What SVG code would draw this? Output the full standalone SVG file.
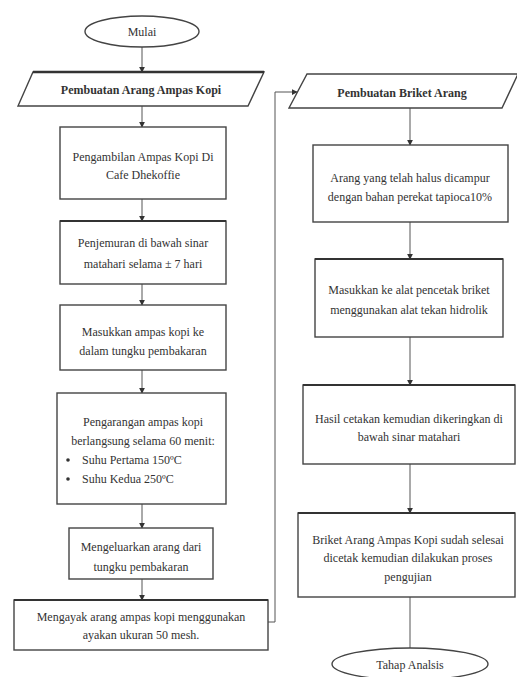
<svg xmlns="http://www.w3.org/2000/svg" width="517" height="677" viewBox="0 0 517 677">
<defs>
<marker id="ah" viewBox="0 0 8 8" refX="7" refY="4" markerWidth="6" markerHeight="6" orient="auto" markerUnits="userSpaceOnUse">
<path d="M0,0 L8,4 L0,8 Z" fill="#333"/>
</marker>
<style>
.box{fill:#fff;stroke:#444;stroke-width:1.4}
.term{fill:#fff;stroke:#444;stroke-width:1.4}
.t{font-family:"Liberation Serif","Times New Roman",serif;font-size:12px;fill:#333;text-anchor:middle}
.tl{font-family:"Liberation Serif","Times New Roman",serif;font-size:12px;fill:#333}
.b{font-weight:bold}
.c{fill:none;stroke:#555;stroke-width:1}
</style>
</defs>
<rect width="517" height="677" fill="#fff"/>
<g id="connectors">
<line class="c" x1="142" y1="47" x2="142" y2="72" marker-end="url(#ah)"/>
<line class="c" x1="142" y1="106" x2="142" y2="127" marker-end="url(#ah)"/>
<line class="c" x1="142" y1="199" x2="142" y2="221" marker-end="url(#ah)"/>
<line class="c" x1="142" y1="284" x2="142" y2="305" marker-end="url(#ah)"/>
<line class="c" x1="142" y1="370" x2="142" y2="393" marker-end="url(#ah)"/>
<line class="c" x1="142" y1="504" x2="142" y2="528" marker-end="url(#ah)"/>
<line class="c" x1="142" y1="579" x2="142" y2="600" marker-end="url(#ah)"/>
<polyline class="c" points="268,622 275,622 275,92 297,92" marker-end="url(#ah)"/>
<line class="c" x1="410" y1="108" x2="410" y2="145" marker-end="url(#ah)"/>
<line class="c" x1="410" y1="222" x2="410" y2="259" marker-end="url(#ah)"/>
<line class="c" x1="410" y1="337" x2="410" y2="385" marker-end="url(#ah)"/>
<line class="c" x1="410" y1="464" x2="410" y2="513" marker-end="url(#ah)"/>
<line class="c" x1="410" y1="597" x2="410" y2="648"/>
</g>
<g id="mulai">
<ellipse class="term" cx="142" cy="31.5" rx="57" ry="15.5"/>
<text class="t" x="142" y="36">Mulai</text>
</g>
<g id="pembuatan-arang">
<polygon class="box" points="33,72 264,72 248,106 18,106"/>
<line x1="33" y1="72" x2="264" y2="72" stroke="#333" stroke-width="2.5"/>
<text class="t b" x="141" y="94">Pembuatan Arang Ampas Kopi</text>
</g>
<g id="step1">
<rect class="box" x="60" y="127" width="166" height="72"/>
<text class="t" x="143" y="161">Pengambilan Ampas Kopi Di</text>
<text class="t" x="143" y="179">Cafe Dhekoffie</text>
</g>
<g id="step2">
<rect class="box" x="60" y="221" width="166" height="63"/>
<line x1="60" y1="221" x2="226" y2="221" stroke="#333" stroke-width="2.2"/>
<text class="t" x="143" y="247">Penjemuran di bawah sinar</text>
<text class="t" x="143" y="268">matahari selama ± 7 hari</text>
</g>
<g id="step3">
<rect class="box" x="60" y="305" width="166" height="65"/>
<text class="t" x="143" y="336">Masukkan ampas kopi ke</text>
<text class="t" x="143" y="355">dalam tungku pembakaran</text>
</g>
<g id="step4">
<rect class="box" x="57" y="393" width="169" height="111"/>
<text class="t" x="143" y="426">Pengarangan ampas kopi</text>
<text class="t" x="143" y="445">berlangsung selama 60 menit:</text>
<circle cx="68" cy="460" r="1.8" fill="#333"/>
<text class="tl" x="82" y="464">Suhu Pertama 150ºC</text>
<circle cx="68" cy="479" r="1.8" fill="#333"/>
<text class="tl" x="82" y="483">Suhu Kedua 250ºC</text>
</g>
<g id="step5">
<rect class="box" x="69" y="528" width="144" height="51"/>
<text class="t" x="141" y="551">Mengeluarkan arang dari</text>
<text class="t" x="141" y="571">tungku pembakaran</text>
</g>
<g id="step6">
<rect class="box" x="14" y="600" width="254" height="50"/>
<line x1="14" y1="600" x2="268" y2="600" stroke="#333" stroke-width="2.2"/>
<text class="t" x="141" y="621">Mengayak arang ampas kopi menggunakan</text>
<text class="t" x="141" y="639">ayakan ukuran 50 mesh.</text>
</g>
<g id="pembuatan-briket">
<polygon class="box" points="307,74 518,74 502,108 289,108"/>
<text class="t b" x="402" y="97">Pembuatan Briket Arang</text>
</g>
<g id="step7">
<rect class="box" x="313" y="145" width="195" height="77"/>
<text class="t" x="410" y="182">Arang yang telah halus dicampur</text>
<text class="t" x="410" y="201">dengan bahan perekat tapioca10%</text>
</g>
<g id="step8">
<rect class="box" x="315" y="259" width="188" height="78"/>
<line x1="315" y1="259" x2="503" y2="259" stroke="#333" stroke-width="2"/>
<text class="t" x="409" y="294">Masukkan ke alat pencetak briket</text>
<text class="t" x="409" y="314">menggunakan alat tekan hidrolik</text>
</g>
<g id="step9">
<rect class="box" x="303" y="385" width="212" height="79"/>
<line x1="303" y1="385" x2="515" y2="385" stroke="#333" stroke-width="2"/>
<text class="t" x="409" y="423">Hasil cetakan kemudian dikeringkan di</text>
<text class="t" x="409" y="441">bawah sinar matahari</text>
</g>
<g id="step10">
<rect class="box" x="298" y="513" width="217" height="84"/>
<line x1="298" y1="513" x2="515" y2="513" stroke="#333" stroke-width="2"/>
<text class="t" x="408" y="544">Briket Arang Ampas Kopi sudah selesai</text>
<text class="t" x="408" y="562">dicetak kemudian dilakukan proses</text>
<text class="t" x="408" y="581">pengujian</text>
</g>
<g id="tahap-analisis">
<ellipse class="term" cx="410" cy="664" rx="78" ry="16"/>
<text class="t" x="410" y="669">Tahap Analsis</text>
</g>
</svg>
